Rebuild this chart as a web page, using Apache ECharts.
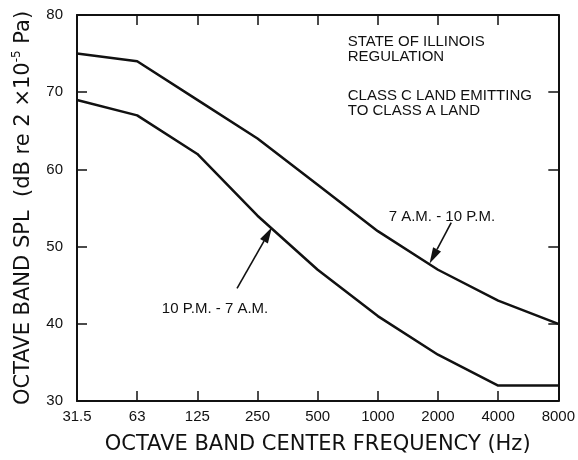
<!DOCTYPE html>
<html>
<head>
<meta charset="utf-8">
<script src="https://cdn.jsdelivr.net/npm/echarts@6/dist/echarts.min.js"></script>
<style>html,body{margin:0;padding:0;background:#fff}#c{width:578px;height:460px}</style>
</head>
<body>
<div id="c"></div>
<script>
const categories = ['31.5', '63', '125', '250', '500', '1000', '2000', '4000', '8000'];
const dayValues = [75, 74, 69, 64, 58, 52, 47, 43, 40];      // 7 A.M. - 10 P.M.
const nightValues = [69, 67, 62, 54, 47, 41, 36, 32, 32];    // 10 P.M. - 7 A.M.
const yTicks = [30, 40, 50, 60, 70, 80];
const dayLabel = '7 A.M. - 10 P.M.';
const nightLabel = '10 P.M. - 7 A.M.';
const noteLines1 = ['STATE OF ILLINOIS', 'REGULATION'];
const noteLines2 = ['CLASS C LAND EMITTING', 'TO CLASS A LAND'];
const xTitle = 'OCTAVE BAND CENTER FREQUENCY (Hz)';

const FONT = 'Liberation Sans';
const TFONT = 'DejaVu Sans';
const INK = '#111';
const chart = echarts.init(document.getElementById('c'), null, {renderer: 'canvas'});

const axisLine = {show: true, lineStyle: {color: INK, width: 2}};
const tickIn = {show: true, inside: true, length: 10, lineStyle: {color: INK, width: 1.5}};

const option = {
  animation: false,
  backgroundColor: '#fff',
  grid: {left: 77, right: 19, top: 15, bottom: 57},
  xAxis: [{
    type: 'category', data: categories, boundaryGap: false, position: 'bottom',
    axisLine, axisTick: tickIn,
    axisLabel: {color: INK, fontFamily: FONT, fontSize: 15, margin: 8},
    splitLine: {show: false},
    name: xTitle, nameLocation: 'middle', nameGap: 33,
    nameTextStyle: {color: INK, fontFamily: TFONT, fontSize: 21}
  }, {
    type: 'category', data: categories, boundaryGap: false, position: 'top',
    axisLine, axisTick: tickIn, axisLabel: {show: false}, splitLine: {show: false}
  }, {
    // hidden helper axis: category index as a continuous value, used to place annotations
    type: 'value', min: 0, max: categories.length - 1, show: false, position: 'bottom'
  }],
  yAxis: [{
    type: 'value', min: yTicks[0], max: yTicks[yTicks.length - 1], interval: 10, position: 'left',
    axisLine, axisTick: tickIn,
    axisLabel: {color: INK, fontFamily: FONT, fontSize: 15, margin: 14},
    splitLine: {show: false},
    name: 'OCTAVE BAND SPL  (dB re 2 ×10{sup|-5} Pa)', nameLocation: 'middle', nameGap: 41, nameRotate: 90,
    nameTextStyle: {color: INK, fontFamily: TFONT, fontSize: 21,
      rich: {sup: {fontSize: 12, fontFamily: TFONT, color: INK, verticalAlign: 'top', padding: [0, 0, 13, 0]}}}
  }, {
    type: 'value', min: yTicks[0], max: yTicks[yTicks.length - 1], interval: 10, position: 'right',
    axisLine, axisTick: tickIn, axisLabel: {show: false}, splitLine: {show: false}
  }],
  series: [{
    name: dayLabel, type: 'line', data: dayValues, symbol: 'none',
    lineStyle: {color: INK, width: 2.5}
  }, {
    name: nightLabel, type: 'line', data: nightValues, symbol: 'none',
    lineStyle: {color: INK, width: 2.5}
  }]
};
chart.setOption(option);

function px(ix, v) { return chart.convertToPixel({xAxisIndex: 2, yAxisIndex: 0}, [ix, v]); }

function arrow(from, to) {
  const a = px(from[0], from[1]), b = px(to[0], to[1]);
  const dx = b[0] - a[0], dy = b[1] - a[1];
  const len = Math.hypot(dx, dy), ux = dx / len, uy = dy / len;
  const hl = 16, hw = 4.5;
  const base = [b[0] - ux * hl, b[1] - uy * hl];
  return [{
    type: 'line', shape: {x1: a[0], y1: a[1], x2: base[0], y2: base[1]},
    style: {stroke: INK, lineWidth: 1.6}
  }, {
    type: 'polygon',
    shape: {points: [b, [base[0] - uy * hw, base[1] + ux * hw], [base[0] + uy * hw, base[1] - ux * hw]]},
    style: {fill: INK}
  }];
}

function text(ix, v, str, size) {
  const p = px(ix, v);
  return {type: 'text', x: p[0], y: p[1],
    style: {text: str, fill: INK, font: size + 'px "' + FONT + '"', textAlign: 'left', textVerticalAlign: 'middle', lineHeight: 15}};
}

const graphics = [];
graphics.push(text(4.5, 75.6, noteLines1.join('\n'), 15));
graphics.push(text(4.5, 68.6, noteLines2.join('\n'), 15));
graphics.push(text(5.18, 53.8, dayLabel, 15));
graphics.push(text(1.41, 42.0, nightLabel, 15));
graphics.push(...arrow([2.66, 44.6], [3.24, 52.5]));
graphics.push(...arrow([6.22, 53.1], [5.86, 47.8]));
chart.setOption({graphic: graphics});
</script>
</body>
</html>
